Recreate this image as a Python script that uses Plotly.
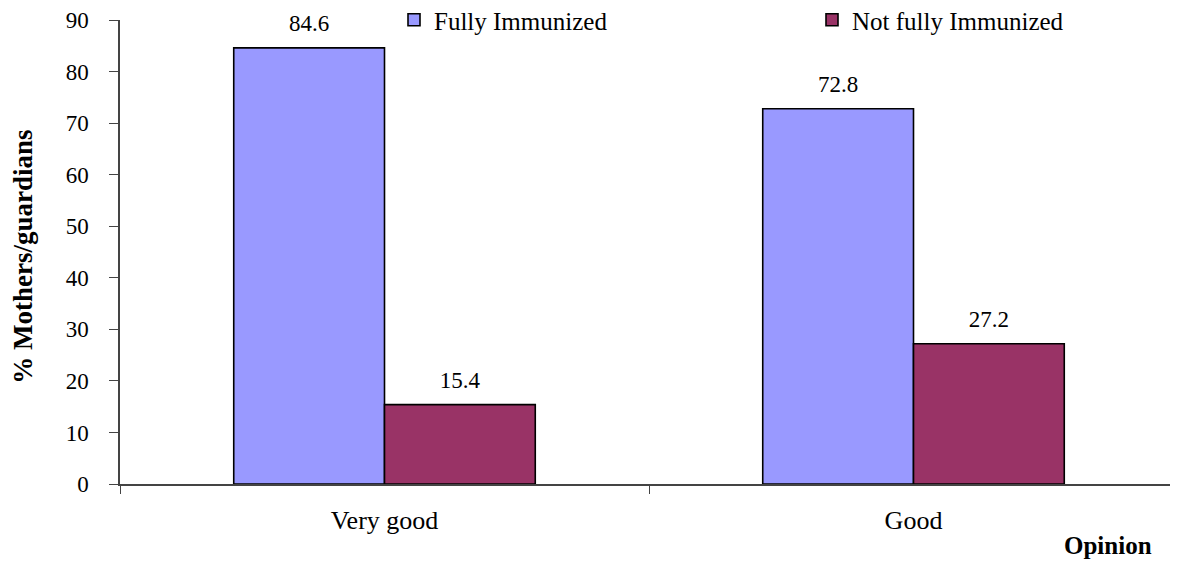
import plotly.graph_objects as go

categories = ["Very good", "Good"]
fully = [84.6, 72.8]
not_fully = [15.4, 27.2]
series_names = ["Fully Immunized", "Not fully Immunized"]
y_ticks = [0, 10, 20, 30, 40, 50, 60, 70, 80, 90]
y_title = "% Mothers/guardians"
x_title = "Opinion"

FONT = "Liberation Serif, Times New Roman, serif"
# the page adds an 8px body margin, so the figure is drawn 8px in from top-left
W, H = 1170, 553
ml, mr, mt, mb = 112, 0, 12, 77
pw = W - ml - mr
ph = H - mt - mb

colors = ["#9999FF", "#993366"]
legend_ids = ["legend", "legend2"]
legend_left_px = [386, 804]
GAP = 0.43

fig = go.Figure()
for name, vals, col, lg in zip(series_names, [fully, not_fully], colors, legend_ids):
    fig.add_trace(go.Bar(
        x=categories, y=vals, name=name, offsetgroup=name, legend=lg,
        marker=dict(color=col, line=dict(color="#000000", width=1.6)),
    ))
for name, vals in zip(series_names, [fully, not_fully]):
    fig.add_trace(go.Scatter(
        x=categories, y=vals, mode="markers+text", offsetgroup=name,
        text=[f"{v:.1f}" for v in vals], textposition="top center",
        marker=dict(size=16, opacity=0), showlegend=False, hoverinfo="skip",
        textfont=dict(family=FONT, size=23, color="#000000"), cliponaxis=False,
    ))

legend_style = dict(
    orientation="h", xanchor="left", y=1 + (mt - 12) / ph, yanchor="middle",
    font=dict(family=FONT, size=25, color="#000000"),
    itemwidth=30, bgcolor="rgba(0,0,0,0)",
)

fig.update_layout(
    width=W, height=H,
    margin=dict(l=ml, r=mr, t=mt, b=mb, autoexpand=False),
    paper_bgcolor="white", plot_bgcolor="white",
    barmode="group", bargap=GAP, bargroupgap=0,
    scattermode="group", scattergap=GAP,
    font=dict(family=FONT, size=20, color="#000000"),
    showlegend=True,
    legend=dict(x=(legend_left_px[0] - ml) / pw, **legend_style),
    legend2=dict(x=(legend_left_px[1] - ml) / pw, **legend_style),
    xaxis=dict(
        type="category", tickson="boundaries", ticks="outside", ticklen=8,
        tickcolor="#444444", showline=True, linecolor="#444444", linewidth=1.5,
        showgrid=False, tickfont=dict(family=FONT, size=26),
        ticklabelstandoff=12, range=[-0.5, 1.5],
    ),
    yaxis=dict(
        range=[0, 90], tickvals=y_ticks, ticks="outside", ticklen=9,
        tickcolor="#444444", showline=True, linecolor="#444444", linewidth=1.5,
        showgrid=False, zeroline=False, tickfont=dict(family=FONT, size=23),
        ticklabelstandoff=16,
    ),
    annotations=[
        dict(
            text=f"<b>{x_title}</b>", xref="paper", yref="paper",
            x=(1146 - ml) / pw, xanchor="right",
            y=-(522 - (H - mb)) / ph, yanchor="top", showarrow=False,
            font=dict(family=FONT, size=25, color="#000000"),
        ),
        dict(
            text=f"<b>{y_title}</b>", xref="paper", yref="paper",
            x=(15 - ml) / pw, xanchor="center", y=0.49, yanchor="middle",
            textangle=-90, showarrow=False,
            font=dict(family=FONT, size=27, color="#000000"),
        ),
    ],
)

fig.write_html("out.html")
